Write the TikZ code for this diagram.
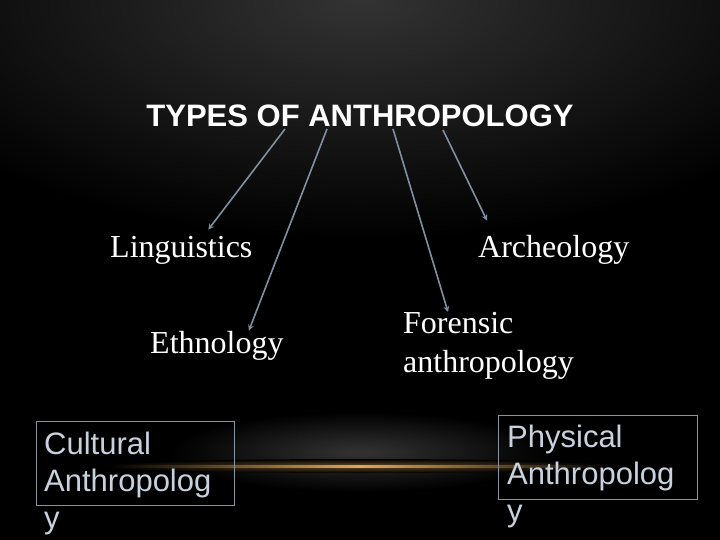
\documentclass[tikz,border=0pt]{standalone}
\usepackage{fontspec}
\setmainfont{Liberation Serif}
\newfontfamily\arial{Liberation Sans}
\definecolor{linkgray}{HTML}{8090A2}
\definecolor{boxtext}{HTML}{C8D2DE}
\definecolor{framegray}{HTML}{8A94A0}
\definecolor{streak}{HTML}{E0A858}
\begin{document}
\begin{tikzpicture}[x=1pt,y=-1pt,>=stealth,
    item/.style={inner sep=0pt,white,font=\fontsize{32}{39}\selectfont},
    sideitem/.style={inner sep=0pt,boxtext,align=left,font=\arial\fontsize{31}{37}\selectfont},
    conn/.style={->,linkgray,line width=1.6pt},
    frame/.style={framegray,line width=0.8pt}]
  % background
  \fill[black] (0,0) rectangle (720,540);
  \useasboundingbox (0,0) rectangle (720,540);
  \shade[inner color=black!80!white,outer color=black] (360,0) ellipse (520 and 240);
  \shade[inner color=black!80!white,outer color=black] (360,452) ellipse (190 and 40);
  \shade[inner color=streak!45!black,outer color=black] (360,466) ellipse (260 and 7);
  \shade[left color=black,right color=streak] (110,465) rectangle (360,467.5);
  \shade[left color=streak,right color=black] (360,465) rectangle (610,467.5);
  % title and branches
  \node[inner sep=0pt,white,anchor=base,font=\arial\bfseries\fontsize{31}{36}\selectfont] (title) at (360,127) {TYPES OF ANTHROPOLOGY};
  \coordinate (t1) at (285,129);
  \coordinate (t2) at (327,129);
  \coordinate (t3) at (393,129);
  \coordinate (t4) at (443,130);
  \node[item,anchor=base west] (ling) at (110,258) {Linguistics};
  \node[item,anchor=base west] (arch) at (478,258) {Archeology};
  \node[item,anchor=base west] (ethno) at (150,353) {Ethnology};
  \node[item,anchor=north west,align=left] (foren) at (403,312) {Forensic\\anthropology};
  \draw[conn] (t1) -- ([xshift=27pt,yshift=7pt]ling.north);
  \draw[conn] (t2) -- ([xshift=32pt]ethno.north);
  \draw[conn] (t3) -- ([xshift=45pt]foren.north west);
  \draw[conn] (t4) -- ([xshift=9pt,yshift=15pt]arch.north west);
  % boxes
  \draw[frame] (36,421) rectangle (234,505);
  \node[sideitem,anchor=north west] (cult) at (44,432) {Cultural\\Anthropolog\\y};
  \draw[frame] (498,415) rectangle (697,499);
  \node[sideitem,anchor=north west] (phys) at (507,425) {Physical\\Anthropolog\\y};
\end{tikzpicture}
\end{document}
